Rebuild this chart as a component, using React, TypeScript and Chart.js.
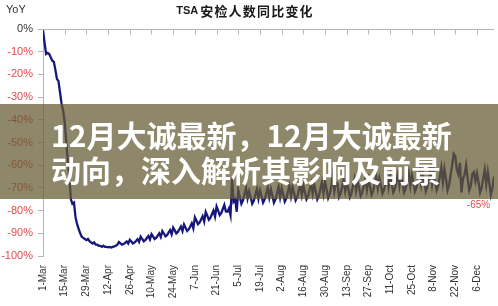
import React, { useEffect, useRef } from 'react';
import { Chart, registerables } from 'chart.js';

Chart.register(...registerables);

const TITLE_LATIN = 'TSA';
const TITLE_CJK = '安检人数同比变化';
const Y_UNIT = 'YoY';
const OVERLAY_LINES = ['12月大诚最新，12月大诚最新', '动向，深入解析其影响及前景'];

// x tick labels, one every 14 days starting 1-Mar
const TICK_LABELS = [
  '1-Mar', '15-Mar', '29-Mar', '12-Apr', '26-Apr', '10-May', '24-May',
  '7-Jun', '21-Jun', '5-Jul', '19-Jul', '2-Aug', '16-Aug', '30-Aug',
  '13-Sep', '27-Sep', '11-Oct', '25-Oct', '8-Nov', '22-Nov', '6-Dec',
];
const TICK_STEP_DAYS = 14;

// Daily YoY change (%), 1-Mar onwards
const YOY_MAR_APR = [
  -0.5, -6, -11, -10.5, -11, -12.5, -14,
  -14.5, -18, -22, -23, -28, -33, -36,
  -41, -50, -58, -65, -75, -77, -76.5,
  -83, -86, -88, -90, -91.5, -92, -92.5,
  -93, -92.5, -93.5, -94, -94.5, -94, -95,
  -95, -95.5, -95.5, -96, -95.5, -96, -96,
  -96.2, -96, -96.3, -96, -95.8, -95.5, -95,
];
const YOY_APR_JUL = [
  -93.8, -94.4, -95.0, -94.7, -94.2, -93.6, -94.5,
  -92.9, -93.6, -94.5, -94.1, -93.4, -92.6, -93.8,
  -91.5, -92.5, -93.5, -93.0, -92.1, -91.2, -92.7,
  -90.4, -91.4, -92.5, -92.0, -91.0, -90.0, -91.6,
  -89.0, -90.1, -91.3, -90.8, -89.7, -88.6, -90.4,
  -87.5, -88.7, -90.0, -89.4, -88.2, -87.0, -89.0,
  -86.1, -87.5, -89.0, -88.3, -87.0, -85.6, -87.8,
  -83.0, -84.4, -86.0, -85.3, -83.9, -82.5, -84.8,
  -80.6, -82.2, -84.0, -83.2, -81.6, -80.0, -82.6,
  -78.2, -80.0, -82.0, -81.1, -79.3, -77.5, -80.4,
  -80.5, -79.0, -82.0, -66.0, -76.0, -75.0, -80.5,
];
const YOY_JUL_SEP = [
  -71.1, -73.9, -77.0, -75.6, -72.8, -70.0, -74.6,
  -71.5, -74.1, -77.0, -75.7, -73.1, -70.5, -74.7,
  -71.0, -73.6, -76.5, -75.2, -72.6, -70.0, -74.2,
  -70.6, -73.4, -76.5, -75.1, -72.3, -69.5, -74.1,
  -70.1, -72.9, -76.0, -74.6, -71.8, -69.0, -73.6,
  -69.6, -72.4, -75.5, -74.1, -71.3, -68.5, -73.1,
  -69.1, -71.9, -75.0, -73.6, -70.8, -68.0, -72.6,
  -68.6, -71.6, -75.0, -73.5, -70.5, -67.5, -72.4,
  -67.3, -70.7, -74.5, -72.8, -69.4, -64.0, -71.5,
  -67.6, -68.0, -74.0, -72.5, -69.5, -66.5, -71.4,
  -67.2, -70.4, -74.0, -72.4, -69.2, -66.0, -71.2,
  -67.1, -70.1, -73.5, -72.0, -69.0, -66.0, -70.9,
];
const YOY_OCT_DEC = [
  -66.2, -69.4, -73.0, -71.4, -68.2, -65.0, -70.2,
  -65.7, -68.9, -72.5, -70.9, -67.7, -64.5, -69.7,
  -65.2, -68.4, -72.0, -70.4, -67.2, -64.0, -69.2,
  -64.8, -68.2, -72.0, -70.3, -66.9, -63.5, -69.0,
  -64.3, -67.7, -71.5, -69.8, -66.4, -63.0, -68.5,
  -63.4, -67.2, -71.5, -69.6, -65.8, -62.0, -68.2,
  -62.5, -66.5, -71.0, -69.0, -65.0, -61.0, -67.5,
  -61.6, -66.1, -71.0, -68.8, -64.4, -60.0, -55.0,
  -56.0, -62.0, -64.0, -59.0, -72.0, -66.0, -64.0,
  -60.0, -66.0, -71.0, -69.0, -64.0, -63.0, -67.0,
  -63.5, -67.5, -72.0, -70.0, -66.0, -62.0, -68.5,
  -63.0, -68.0, -73.0, -70.0, -65.0,
];

const YOY = [...YOY_MAR_APR, ...YOY_APR_JUL, ...YOY_JUL_SEP, ...YOY_OCT_DEC];

const LINE_COLOR = '#16167c';
const AXIS_COLOR = '#b4b4b4';
const RED = '#e04b50';
const TEXT = '#333333';
const FONT = '"Liberation Sans", Arial, sans-serif';

const decorPlugin = {
  id: 'decor',
  beforeDatasetsDraw(chart: any) {
    const { ctx, chartArea, scales } = chart;
    const x = scales.x;
    const y = scales.y;
    const y0 = Math.round(y.getPixelForValue(0)) + 0.5;
    ctx.save();
    ctx.strokeStyle = AXIS_COLOR;
    ctx.lineWidth = 1;
    ctx.beginPath();
    ctx.moveTo(chartArea.left, y0);
    ctx.lineTo(chartArea.right, y0);
    x.ticks.forEach((t: any) => {
      if (t.value % TICK_STEP_DAYS === 0 && t.value > 0) {
        const px = Math.round(x.getPixelForValue(t.value)) + 0.5;
        ctx.moveTo(px, y0);
        ctx.lineTo(px, y0 + 5);
      }
    });
    ctx.stroke();
    ctx.restore();
  },
  afterDraw(chart: any) {
    const { ctx, scales } = chart;
    ctx.save();
    ctx.textBaseline = 'middle';
    // YoY unit label
    ctx.fillStyle = TEXT;
    ctx.font = `11px ${FONT}`;
    ctx.textAlign = 'left';
    ctx.fillText(Y_UNIT, 6, 10);
    // title
    ctx.font = `bold 11px ${FONT}`;
    const w1 = ctx.measureText(TITLE_LATIN).width;
    ctx.font = `bold 13px "Noto Sans CJK SC"`;
    (ctx as any).letterSpacing = '1.2px';
    const w2 = ctx.measureText(TITLE_CJK).width;
    const startX = 245 - (w1 + 2 + w2) / 2;
    (ctx as any).letterSpacing = '0px';
    ctx.font = `bold 11px ${FONT}`;
    ctx.fillStyle = '#1a1a1a';
    ctx.fillText(TITLE_LATIN, startX, 11);
    ctx.font = `bold 13px "Noto Sans CJK SC"`;
    (ctx as any).letterSpacing = '1.2px';
    ctx.fillText(TITLE_CJK, startX + w1 + 2, 11);
    (ctx as any).letterSpacing = '0px';
    // last value label
    const last = YOY[YOY.length - 1];
    const lx = scales.x.getPixelForValue(YOY.length - 1) - 15.5;
    const ly = scales.y.getPixelForValue(last) + 29;
    ctx.font = `10px ${FONT}`;
    ctx.fillStyle = RED;
    ctx.textAlign = 'center';
    ctx.fillText(`${last}%`, lx, ly);
    ctx.restore();
  },
};

export default function App() {
  const ref = useRef<HTMLCanvasElement | null>(null);

  useEffect(() => {
    document.body.style.margin = '0';
    if (!ref.current) return;
    const chart = new Chart(ref.current, {
      type: 'line',
      data: {
        datasets: [
          {
            data: YOY.map((v, i) => ({ x: i, y: v })),
            borderColor: LINE_COLOR,
            borderWidth: 2.3,
            pointRadius: 0,
            tension: 0,
            fill: false,
          },
        ],
      },
      options: {
        animation: false,
        responsive: false,
        devicePixelRatio: 1,
        layout: { padding: { top: 29, right: 1, left: 0, bottom: 0 } },
        plugins: {
          legend: { display: false },
          tooltip: { enabled: false },
          title: { display: false },
        },
        scales: {
          x: {
            type: 'linear',
            min: 0,
            max: YOY.length - 1,
            grid: { display: false, drawTicks: false },
            border: { display: false },
            afterFit: (s: any) => {
              s.height = 50;
            },
            ticks: {
              stepSize: TICK_STEP_DAYS,
              autoSkip: false,
              includeBounds: false,
              maxRotation: 90,
              minRotation: 90,
              padding: 9,
              color: TEXT,
              font: { family: FONT, size: 10 },
              callback: (v: any) =>
                v % TICK_STEP_DAYS === 0 ? TICK_LABELS[v / TICK_STEP_DAYS] ?? '' : '',
            },
          },
          y: {
            min: -100,
            max: 0,
            grid: {
              drawOnChartArea: false,
              drawTicks: true,
              tickLength: 5,
              color: AXIS_COLOR,
            },
            border: { display: true, color: AXIS_COLOR },
            afterFit: (s: any) => {
              s.width = 43;
            },
            ticks: {
              stepSize: 10,
              padding: 5,
              font: { family: FONT, size: 11 },
              color: (c: any) => (c.tick && c.tick.value === 0 ? TEXT : RED),
              callback: (v: any) => `${v}%`,
            },
          },
        },
      },
      plugins: [decorPlugin],
    });
    return () => chart.destroy();
  }, []);

  return (
    <div style={{ position: 'relative', width: 498, height: 306, overflow: 'hidden', background: '#fff' }}>
      <canvas ref={ref} width={498} height={306} style={{ display: 'block' }} />
      <div
        style={{
          position: 'absolute',
          left: 0,
          top: 104,
          width: 498,
          height: 95,
          background: 'rgba(100, 90, 50, 0.73)',
        }}
      />
      {OVERLAY_LINES.map((line, i) => (
        <div
          key={i}
          style={{
            position: 'absolute',
            left: 51,
            top: 117 + i * 35,
            font: 'bold 30px "Noto Sans CJK SC"',
            lineHeight: '35px',
            color: '#fff',
            whiteSpace: 'nowrap',
          }}
        >
          {line}
        </div>
      ))}
    </div>
  );
}
